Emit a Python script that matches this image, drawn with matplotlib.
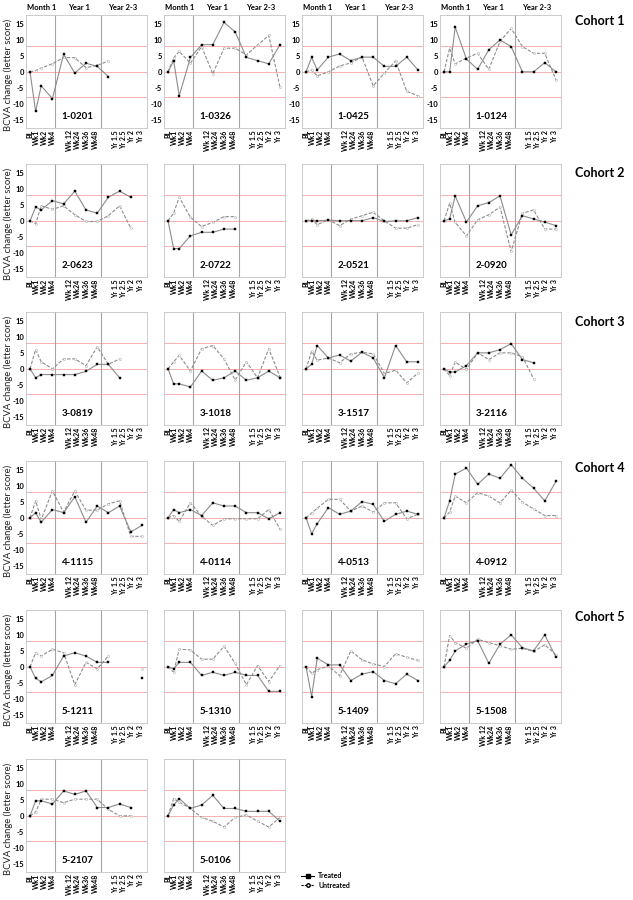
import numpy as np
import matplotlib.pyplot as plt
from matplotlib.lines import Line2D

plt.rcParams['font.family'] = ['Lato', 'DejaVu Sans']

nan = np.nan

visits = ["BL", "Wk1", "Wk2", "Wk4", "Wk 12", "Wk24", "Wk36", "Wk48",
          "Yr 1.5", "Yr 2.5", "Yr 2", "Yr 3"]
periods = ["Month 1", "Year 1", "Year 2-3"]
cohorts = ["Cohort 1", "Cohort 2", "Cohort 3", "Cohort 4", "Cohort 5"]

rows = [["1-0201", "1-0326", "1-0425", "1-0124"],
        ["2-0623", "2-0722", "2-0521", "2-0920"],
        ["3-0819", "3-1018", "3-1517", "3-2116"],
        ["4-1115", "4-0114", "4-0513", "4-0912"],
        ["5-1211", "5-1310", "5-1409", "5-1508"],
        ["5-2107", "5-0106"]]

# BCVA change (letters) at each visit, t = treated eye, u = untreated eye
t_1_0201 = [0, -12.4, -4.4, -8.4, 5.5, -0.4, 2.7, 1.7, -1.5, nan, nan, nan]
u_1_0201 = [0, 0.4, 1.2, 2.5, 4.5, 4.4, 1.3, 2.0, 3.4, nan, nan, nan]
t_1_0326 = [0, 3.5, -7.5, 4.5, 8.5, 8.5, 15.5, 12.5, 4.5, 3.5, 2.5, 8.5]
u_1_0326 = [0, 4.3, 6.4, 2.7, 7.9, -0.6, 7.4, 7.4, 5.3, 8.4, 11.4, -4.8]
t_1_0425 = [0, 4.5, 0.6, 4.6, 5.6, 3.5, 4.6, 4.6, 1.7, 1.7, 4.6, 0.6]
u_1_0425 = [0, 0.6, -1.3, 0, 1.8, 2.8, 4.6, -4.4, -0.4, 3.4, -6.1, -7.5]
t_1_0124 = [0, 0, 14, 4, 0.8, 6.9, 10, 7.9, 0, 0, 2.9, 0]
u_1_0124 = [0, 7.4, 2.5, 4.3, 5.8, 0.8, 9.5, 13.6, 7.9, 5.8, 5.8, -2.5]

t_2_0623 = [0, 4.3, 3.4, 6.3, 5.3, 9.3, 3.4, 2.4, 7.4, 9.3, 7.4, nan]
u_2_0623 = [0, -0.9, 4.7, 3.6, 4.7, 1.9, -0.2, -0.2, 1.6, 4.7, -2.3, nan]
t_2_0722 = [0, -8.7, -8.7, -4.7, -3.6, -3.6, -2.6, -2.6, nan, nan, nan, nan]
u_2_0722 = [0, 2.4, 7.4, 1.1, -1.8, -0.5, 1.3, 1.3, nan, nan, nan, nan]
t_2_0521 = [0, 0.1, 0, 0.2, 0, 0.1, 0, 1.0, -0.2, 0, 0, 1.0]
u_2_0521 = [0, 0.5, -1.2, 0.3, -1.5, 0.5, 1.6, 2.7, 0, -2.3, -2.3, -1.2]
t_2_0920 = [0, 0.6, 7.8, -0.4, 4.7, 5.7, 7.8, -4.4, 1.6, 0.6, -0.4, -1.5]
u_2_0920 = [0, 5.5, -0.5, -4.7, 0.3, 1.9, 4.3, -9.6, 2.4, 3.4, -2.6, -2.6]

t_3_0819 = [0, -2.8, -1.8, -1.8, -1.8, -1.8, -0.8, 1.4, 1.4, -2.8, nan, nan]
u_3_0819 = [0, 6.0, 2.2, 0, 3.1, 3.1, 1.0, 6.9, 1.4, 3.1, nan, nan]
t_3_1018 = [0, -4.7, -4.7, -5.7, -0.7, -3.6, -2.8, -0.7, -3.6, -2.8, -0.7, -2.8]
u_3_1018 = [0, 2.2, 4.2, -0.7, 6.3, 7.3, 3.1, -3.5, 2.2, -2.8, 6.3, -2.5]
t_3_1517 = [0, 1.4, 7.3, 3.4, 4.3, 2.4, 5.2, 3.4, -2.8, 7.3, 2.2, 2.2]
u_3_1517 = [0, 5.5, 2.7, 3.4, 1.9, 4.7, 5.2, 4.7, -1.5, -0.4, -4.4, -1.3]
t_3_2116 = [0, -1, -1, 1, 5, 5, 6, 7.9, 2.9, 1.9, nan, nan]
u_3_2116 = [0, -2.1, 2.1, -0.2, 5, 2.9, 5, 5, 3.8, -3.1, nan, nan]

t_4_1115 = [0, 1.6, -1.4, 2.6, 1.6, 6.6, -1.4, 3.7, 1.6, 3.7, -4.4, -2.4]
u_4_1115 = [0, 5.3, -0.5, 8.4, 1.8, 8.4, 2.4, 2.4, 4.4, 5.3, -5.8, -5.8]
t_4_0114 = [0, 2.6, 1.6, 2.6, 0.7, 4.7, 3.7, 3.7, 1.6, 1.6, -0.3, 1.6]
u_4_0114 = [0, 0.7, -1.1, 4.7, 0.5, -2.4, -0.3, -0.3, -0.3, -0.3, 2.6, -3.5]
t_4_0513 = [0, -5, -1.8, 3.2, 1.1, 2.1, 5.1, 4.2, -1.1, 1.1, 2.1, 1.1]
u_4_0513 = [0, 1.5, 3.0, 5.8, 5.8, 2.1, 3.7, 1.8, 4.7, 4.7, -0.3, 1.1]
t_4_0912 = [0, 5.3, 13.7, 15.6, 10.5, 13.7, 12.4, 16.6, 12.4, 9.3, 5.3, 11.4]
u_4_0912 = [0, 1.8, 6.8, 4.7, 7.9, 6.8, 4.7, 8.7, 4.9, 2.8, 0.7, 0.7]

t_5_1211 = [0, -3.6, -4.7, -2.7, 3.4, 4.4, 3.4, 1.4, 1.4, nan, nan, -3.6]
u_5_1211 = [0, 4.4, 3.4, 5.5, 4.4, -5.6, 1.4, -0.6, 3.4, nan, nan, -0.6]
t_5_1310 = [0, -0.6, 1.4, 1.4, -2.7, -1.7, -2.7, -1.7, -2.7, -2.7, -7.7, -7.7]
u_5_1310 = [0, -1.7, 5.5, 5.3, 2.4, 2.4, 6.4, 1.1, -5.6, 0.4, -4.6, 0.4]
t_5_1409 = [0, -9.3, 2.7, 0.6, 0.6, -4.3, -2.3, -1.5, -4.3, -5.3, -2.3, -4.3]
u_5_1409 = [0, -2.0, -0.9, 0.3, -2.8, 5.0, 2.2, 0.9, 0.1, 4.1, 3.0, 2.0]
t_5_1508 = [0, 2, 5, 7.1, 8.2, 1.1, 7.1, 10, 6, 5, 10, 3]
u_5_1508 = [0, 9.8, 7.6, 5.8, 8.6, 7.6, 6.6, 5.5, 5.8, 4.8, 6.9, 3.8]

t_5_2107 = [0, 4.7, 4.7, 3.7, 7.8, 6.7, 7.8, 2.6, 2.6, 3.7, 2.6, nan]
u_5_2107 = [0, 1.1, 5.2, 5.2, 4.1, 5.2, 5.2, 5.2, 2.0, 0, 0, nan]
t_5_0106 = [0, 3.4, 5.4, 2.3, 3.4, 6.4, 2.3, 2.3, 1.4, 1.4, 1.4, -1.7]
u_5_0106 = [0, 5.4, 4.3, 2.3, -0.5, -1.7, -3.5, -0.5, 0.3, -1.7, -3.5, -0.5]

treated = {"1-0201": t_1_0201, "1-0326": t_1_0326, "1-0425": t_1_0425, "1-0124": t_1_0124,
           "2-0623": t_2_0623, "2-0722": t_2_0722, "2-0521": t_2_0521, "2-0920": t_2_0920,
           "3-0819": t_3_0819, "3-1018": t_3_1018, "3-1517": t_3_1517, "3-2116": t_3_2116,
           "4-1115": t_4_1115, "4-0114": t_4_0114, "4-0513": t_4_0513, "4-0912": t_4_0912,
           "5-1211": t_5_1211, "5-1310": t_5_1310, "5-1409": t_5_1409, "5-1508": t_5_1508,
           "5-2107": t_5_2107, "5-0106": t_5_0106}
untreated = {"1-0201": u_1_0201, "1-0326": u_1_0326, "1-0425": u_1_0425, "1-0124": u_1_0124,
             "2-0623": u_2_0623, "2-0722": u_2_0722, "2-0521": u_2_0521, "2-0920": u_2_0920,
             "3-0819": u_3_0819, "3-1018": u_3_1018, "3-1517": u_3_1517, "3-2116": u_3_2116,
             "4-1115": u_4_1115, "4-0114": u_4_0114, "4-0513": u_4_0513, "4-0912": u_4_0912,
             "5-1211": u_5_1211, "5-1310": u_5_1310, "5-1409": u_5_1409, "5-1508": u_5_1508,
             "5-2107": u_5_2107, "5-0106": u_5_0106}

# layout (x positions of visits, tick label spots, panel boxes in pixels)
visit_x = [0, 1, 2, 4, 6, 8, 10, 12, 14, 16, 18, 20]
label_x = [-0.1, 1.1, 2.5, 4.0, 7.0, 8.5, 10.0, 11.6, 15.2, 16.7, 18.2, 19.7]
period_x = [2.1, 8.8, 16.5]
W, H = 633, 900
col_left = [26, 164, 302, 440]
row_top = [15, 164, 312, 461, 610, 759]
aw, ah = 121, 113
cohort_y = [21, 173, 322, 468, 617]

fig = plt.figure(figsize=(6.33, 9), dpi=100)

for r in range(len(rows)):
    for c in range(len(rows[r])):
        pid = rows[r][c]
        ax = fig.add_axes([col_left[c]/W, 1-(row_top[r]+ah)/H, aw/W, ah/H])
        ax.set_xlim(-0.72, 20.9)
        ax.set_ylim(-17.6, 17.8)
        for yv in (-8, 0, 8):
            ax.axhline(yv, color='#f4a3a3', lw=0.6, zorder=1)
        for xv in (4.5, 12.6):
            ax.axvline(xv, color='#a5a5a5', lw=0.8, zorder=1)
        ax.plot(visit_x, untreated[pid], color='#8c8c8c', lw=0.8, ls=(0, (3, 1.5)),
                marker='o', ms=1.5, mfc='white', mec='#b0b0b0', mew=0.4, zorder=2)
        ax.plot(visit_x, treated[pid], color='#8c8c8c', lw=0.8,
                marker='s', ms=1.7, mfc='black', mec='black', mew=0.3, zorder=3)
        ax.set_xticks(label_x)
        ax.set_xticklabels(visits, rotation=90, fontsize=5, fontweight='bold')
        ax.set_yticks(range(-15, 16, 5))
        if r == 0 or c == 0:
            ax.set_yticklabels([str(v) for v in range(-15, 16, 5)], fontsize=5.5, fontweight='bold')
        else:
            ax.set_yticklabels([])
        ax.tick_params(length=0, pad=1.5)
        for s in ax.spines.values():
            s.set_color('#c4c4c4')
            s.set_linewidth(0.6)
        if c == 0:
            ax.set_ylabel("BCVA change (letter score)", fontsize=6.8, color='#222222')
            ax.yaxis.set_label_coords(-0.11, 0.47)
        ax.text(8.5, -14, pid, ha='center', va='center', fontsize=7, fontweight='bold')
        if r == 0:
            for px, name in zip(period_x, periods):
                ax.text(px, 1.07, name, transform=ax.get_xaxis_transform(),
                        ha='center', va='center', fontsize=5.5, fontweight='bold')

for i, name in enumerate(cohorts):
    fig.text(600/W, 1-cohort_y[i]/H, name, ha='center', va='center',
             fontsize=9, fontweight='bold')

handles = [Line2D([], [], color='black', lw=0.8, marker='s', ms=2.5, mfc='black', mec='black'),
           Line2D([], [], color='black', lw=0.8, ls=(0, (2, 1)), marker='o', ms=2.5,
                  mfc='white', mec='black')]
fig.legend(handles, ["Treated", "Untreated"], loc='upper left',
           bbox_to_anchor=(298/W, 1-869/H), frameon=False, handlelength=1.8,
           handletextpad=0.6, labelspacing=0.3, borderpad=0,
           prop={'size': 5, 'weight': 'bold'})

fig.savefig('out.png', dpi=100)
